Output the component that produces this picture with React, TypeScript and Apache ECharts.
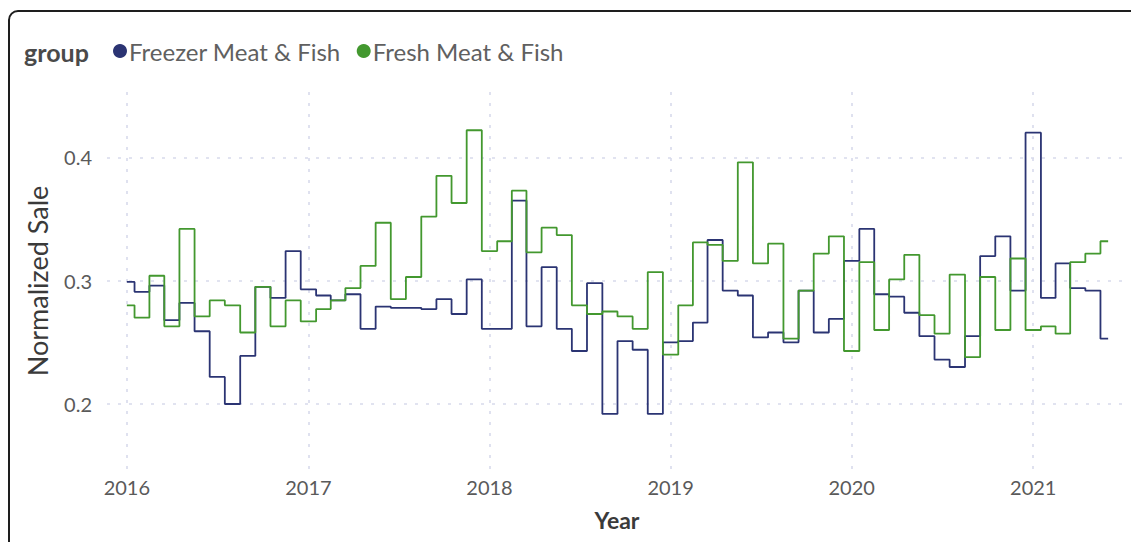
import React, { useEffect, useRef } from "react";
import * as echarts from "echarts";

// Monthly series starting January 2016
const startYear = 2016;
const startMonth = 0;

const freezerMeatFish = [
  0.299, 0.291, 0.296, 0.268, 0.282, 0.259, 0.222, 0.2, 0.239, 0.295, 0.286, 0.324,
  0.293, 0.288, 0.284, 0.289, 0.261, 0.279, 0.278, 0.278, 0.277, 0.285, 0.273, 0.301,
  0.261, 0.261, 0.365, 0.263, 0.311, 0.261, 0.243, 0.298, 0.192, 0.251, 0.244, 0.192,
  0.25, 0.251, 0.266, 0.333, 0.292, 0.288, 0.254, 0.258, 0.25, 0.292, 0.258, 0.269,
  0.316, 0.342, 0.289, 0.287, 0.274, 0.255, 0.236, 0.23, 0.255, 0.32, 0.336, 0.292,
  0.42, 0.286, 0.314, 0.294, 0.292, 0.253,
];

const freshMeatFish = [
  0.28, 0.27, 0.304, 0.263, 0.342, 0.271, 0.284, 0.28, 0.258, 0.295, 0.263, 0.284,
  0.267, 0.277, 0.284, 0.294, 0.312, 0.347, 0.285, 0.303, 0.352, 0.385, 0.363, 0.422,
  0.324, 0.332, 0.373, 0.323, 0.343, 0.337, 0.28, 0.273, 0.275, 0.271, 0.261, 0.307,
  0.24, 0.28, 0.331, 0.329, 0.316, 0.396, 0.314, 0.33, 0.253, 0.292, 0.322, 0.336,
  0.243, 0.315, 0.26, 0.301, 0.321, 0.272, 0.257, 0.305, 0.238, 0.303, 0.26, 0.318,
  0.26, 0.263, 0.257, 0.315, 0.322, 0.332,
];

const yearTicks = [2016, 2017, 2018, 2019, 2020, 2021];
const yTicks = [0.2, 0.3, 0.4];

const seriesNames = ["Freezer Meat & Fish", "Fresh Meat & Fish"];
const seriesColors = ["#2b3473", "#43982f"];

const monthDate = (i: number) => new Date(startYear, startMonth + i, 1).getTime();

export default function App() {
  const ref = useRef<HTMLDivElement>(null);

  useEffect(() => {
    if (!ref.current) return;
    const chart = echarts.init(ref.current, null, { renderer: "svg" });
    const font = "Lato, 'Noto Sans', sans-serif";
    const gridLine = { show: true, lineStyle: { color: "#d7daec", width: 1.6, type: [3, 8] as any } };
    const yearStamps = yearTicks.map((y) => new Date(y, 0, 1).getTime());

    const toSeries = (vals: number[], idx: number) => ({
      name: seriesNames[idx],
      type: "line",
      step: "middle",
      showSymbol: false,
      symbol: "circle",
      data: vals.map((v, i) => [monthDate(i), v]),
      lineStyle: { color: seriesColors[idx], width: 1.8 },
      itemStyle: { color: seriesColors[idx] },
      z: 2 + idx,
    });

    chart.setOption({
      animation: false,
      textStyle: { fontFamily: font },
      grid: { left: 107, right: 4, top: 92, bottom: 72, containLabel: false },
      graphic: [
        {
          type: "text",
          left: 24,
          top: 39,
          style: { text: "group", font: `bold 25px ${font}`, fill: "#4a4a4a" },
        },
      ],
      legend: {
        left: 108,
        top: 34,
        icon: "circle",
        itemWidth: 14,
        itemHeight: 14,
        itemGap: 16,
        data: seriesNames,
        textStyle: { fontSize: 24, color: "#606060", fontFamily: font, lineHeight: 20, padding: [0, 0, 0, -3] },
      },
      xAxis: {
        type: "value",
        min: new Date(2015, 10, 22).getTime(),
        max: new Date(2021, 6, 9).getTime(),
        name: "Year",
        nameLocation: "middle",
        nameGap: 38,
        nameTextStyle: { fontSize: 23, fontWeight: "bold", color: "#3a3a3a", fontFamily: font },
        axisLine: { show: false },
        axisTick: { show: false, customValues: yearStamps },
        axisLabel: {
          customValues: yearStamps,
          formatter: (v: number) => String(new Date(v).getFullYear()),
          fontSize: 20,
          color: "#5a5a5a",
          margin: 7,
          fontFamily: font,
        },
        splitLine: gridLine,
      },
      yAxis: {
        type: "value",
        min: 0.1465,
        max: 0.453,
        name: "Normalized Sale",
        nameLocation: "middle",
        nameGap: 56,
        nameTextStyle: { fontSize: 27, color: "#3a3a3a", fontFamily: font },
        axisLine: { show: false },
        axisTick: { show: false, customValues: yTicks },
        axisLabel: {
          customValues: yTicks,
          formatter: (v: number) => v.toFixed(1),
          fontSize: 20,
          color: "#5a5a5a",
          margin: 15,
          fontFamily: font,
        },
        splitLine: gridLine,
      },
      series: [toSeries(freezerMeatFish, 0), toSeries(freshMeatFish, 1)],
    });

    return () => chart.dispose();
  }, []);

  return (
    <div
      style={{
        position: "absolute",
        left: 0,
        top: 0,
        width: 1131,
        height: 542,
        overflow: "hidden",
        background: "#fff",
      }}
    >
      <div
        style={{
          position: "absolute",
          left: 8,
          top: 10,
          width: 1300,
          height: 700,
          border: "2px solid #1e1e1e",
          borderRadius: 10,
          boxSizing: "border-box",
          pointerEvents: "none",
        }}
      />
      <div ref={ref} style={{ position: "absolute", left: 0, top: 0, width: 1131, height: 542 }} />
    </div>
  );
}
